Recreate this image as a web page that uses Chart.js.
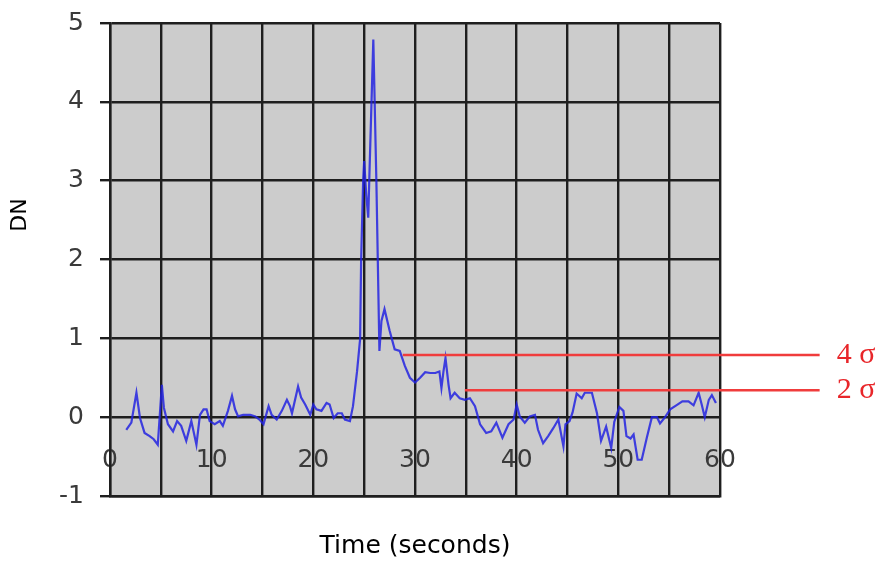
<!DOCTYPE html>
<html>
<head>
<meta charset="utf-8">
<script src="https://cdn.jsdelivr.net/npm/chart.js@4/dist/chart.umd.min.js"></script>
<style>
  html, body { margin: 0; padding: 0; background: #ffffff; }
  #wrap { width: 887px; height: 564px; }
</style>
</head>
<body>
<div id="wrap"><canvas id="dnChart"></canvas></div>
<script>
// time in seconds and detector signal (DN)
var timeSec = [1.6, 2.1, 2.6, 2.95, 3.4, 3.9, 4.3, 4.7, 5.1, 5.3, 5.7, 6.2, 6.6, 7.0, 7.5, 8.0, 8.5, 8.85, 9.2, 9.5,
    9.8, 10.3, 10.8, 11.1, 11.6, 12.0, 12.3, 12.6, 13.1, 13.8, 14.3, 14.7, 15.1, 15.6, 15.9, 16.4, 16.9, 17.4, 17.7, 17.9,
    18.5, 18.8, 19.2, 19.7, 20.0, 20.3, 20.8, 21.3, 21.6, 22.0, 22.4, 22.8, 23.1, 23.6, 23.9, 24.3, 24.6, 24.7, 24.9, 25.0,
    25.2, 25.4, 25.5, 25.9, 26.2, 26.5, 26.7, 27.0, 27.5, 28.0, 28.5, 29.0, 29.5, 30.0, 30.5, 31.0, 31.5, 32.0, 32.4, 32.6,
    32.8, 33.0, 33.3, 33.5, 33.9, 34.4, 34.9, 35.4, 35.9, 36.4, 37.0, 37.5, 38.0, 38.6, 39.2, 39.7, 40.0, 40.3, 40.8, 41.3,
    41.8, 42.1, 42.6, 43.1, 43.6, 44.1, 44.6, 44.8, 45.2, 45.5, 45.9, 46.4, 46.7, 47.4, 47.9, 48.3, 48.8, 49.3, 49.6, 50.1,
    50.5, 50.8, 51.2, 51.5, 51.9, 52.3, 52.8, 53.3, 53.8, 54.1, 54.6, 55.1, 55.7, 56.3, 56.9, 57.4, 57.9, 58.2, 58.5, 58.9,
    59.2, 59.6];
var dnValues = [-0.16, -0.07, 0.31, -0.01, -0.2, -0.24, -0.28, -0.35, 0.41, 0.12, -0.09, -0.18, -0.05, -0.11, -0.3, -0.05, -0.35, 0.03, 0.1, 0.1,
    -0.05, -0.09, -0.05, -0.11, 0.08, 0.27, 0.1, 0.01, 0.03, 0.03, 0.01, -0.03, -0.09, 0.14, 0.03, -0.03, 0.08, 0.22, 0.14, 0.05,
    0.39, 0.25, 0.16, 0.03, 0.16, 0.1, 0.08, 0.18, 0.16, -0.01, 0.05, 0.05, -0.03, -0.05, 0.14, 0.58, 0.99, 1.98, 3.0, 3.25,
    2.83, 2.53, 3.0, 4.79, 3.0, 0.84, 1.22, 1.37, 1.1, 0.86, 0.84, 0.65, 0.5, 0.44, 0.5, 0.57, 0.56, 0.56, 0.58, 0.37,
    0.58, 0.75, 0.41, 0.24, 0.31, 0.24, 0.22, 0.24, 0.14, -0.09, -0.2, -0.18, -0.07, -0.26, -0.09, -0.03, 0.16, 0.01, -0.07, 0.01,
    0.03, -0.16, -0.33, -0.24, -0.14, -0.03, -0.37, -0.09, -0.05, 0.06, 0.3, 0.24, 0.31, 0.31, 0.05, -0.3, -0.12, -0.39, -0.06, 0.13,
    0.08, -0.24, -0.27, -0.22, -0.54, -0.54, -0.26, 0.0, 0.0, -0.08, 0.0, 0.1, 0.15, 0.2, 0.2, 0.15, 0.31, 0.16, 0.0, 0.22,
    0.28, 0.18];

// sigma threshold lines
var sigmaLabels = ['4 σ', '2 σ'];
var sigmaLevels = [0.79, 0.34];
var sigmaStart = [28.8, 34.9];
var sigmaEnd = 69.8;

var xTickLabels = ['0', '10', '20', '30', '40', '50', '60'];

var points = timeSec.map(function (t, i) {
    return { x: t, y: dnValues[i] };
});

var datasets = [{
    label: 'DN',
    data: points,
    borderColor: 'rgba(35, 35, 225, 0.85)',
    borderWidth: 2.2,
    pointRadius: 0,
    tension: 0,
    fill: false,
    order: 2
}];

sigmaLevels.forEach(function (level, i) {
    datasets.push({
        label: sigmaLabels[i],
        data: [{ x: sigmaStart[i], y: level }, { x: sigmaEnd, y: level }],
        borderColor: '#f03c3c',
        borderWidth: 2.5,
        pointRadius: 0,
        fill: false,
        clip: false,
        order: 1
    });
});

var plotBackground = {
    id: 'plotBackground',
    beforeDraw: function (chart) {
        var a = chart.chartArea;
        var ctx = chart.ctx;
        ctx.save();
        ctx.fillStyle = '#cccccc';
        ctx.fillRect(a.left, a.top, a.right - a.left, a.bottom - a.top);
        ctx.restore();
    }
};

var extraText = {
    id: 'extraText',
    afterDraw: function (chart) {
        var ctx = chart.ctx;
        var xs = chart.scales.x;
        var ys = chart.scales.y;
        ctx.save();
        // sigma labels
        ctx.fillStyle = '#e8262a';
        ctx.font = '30px "Liberation Serif"';
        ctx.textAlign = 'left';
        ctx.textBaseline = 'middle';
        sigmaLevels.forEach(function (level, i) {
            ctx.fillText(sigmaLabels[i], xs.getPixelForValue(sigmaEnd) + 17, ys.getPixelForValue(level));
        });
        // y axis title
        ctx.fillStyle = '#000000';
        ctx.font = '22px "DejaVu Sans"';
        ctx.textAlign = 'center';
        ctx.textBaseline = 'middle';
        ctx.translate(20, 215);
        ctx.rotate(-Math.PI / 2);
        ctx.fillText('DN', 0, 0);
        ctx.restore();
    }
};

var ctx = document.getElementById('dnChart');
var dnChart = new Chart(ctx, {
    type: 'line',
    data: { datasets: datasets },
    options: {
        responsive: true,
        maintainAspectRatio: false,
        animation: false,
        layout: { padding: { left: 0, top: 23, right: 167, bottom: 0 } },
        plugins: {
            legend: { display: false },
            tooltip: { enabled: false }
        },
        scales: {
            x: {
                type: 'linear',
                min: 0,
                max: 60,
                afterFit: function (scale) {
                    scale.height = 68;
                    scale.paddingLeft = 0;
                    scale.paddingRight = 0;
                },
                ticks: {
                    stepSize: 5,
                    autoSkip: false,
                    maxRotation: 0,
                    mirror: true,
                    padding: 21,
                    color: '#3a3a3a',
                    font: { family: 'DejaVu Sans', size: 25 },
                    callback: function (v) {
                        return v % 10 === 0 ? xTickLabels[v / 10] : '';
                    }
                },
                grid: { color: '#1e1e1e', lineWidth: 2.4, tickLength: 0, drawTicks: false },
                border: { color: '#1e1e1e', width: 2.4 },
                title: {
                    display: true,
                    text: 'Time (seconds)',
                    color: '#000000',
                    font: { family: 'DejaVu Sans', size: 25 },
                    padding: { top: 0, bottom: 3 }
                }
            },
            y: {
                min: -1,
                max: 5,
                afterFit: function (scale) {
                    scale.width = 110;
                    scale.paddingTop = 0;
                    scale.paddingBottom = 0;
                },
                ticks: {
                    stepSize: 1,
                    padding: 16,
                    color: '#3a3a3a',
                    font: { family: 'DejaVu Sans', size: 25 }
                },
                grid: { color: '#1e1e1e', lineWidth: 2.4, tickLength: 10 },
                border: { color: '#1e1e1e', width: 2.4 }
            }
        }
    },
    plugins: [plotBackground, extraText]
});
</script>
</body>
</html>
